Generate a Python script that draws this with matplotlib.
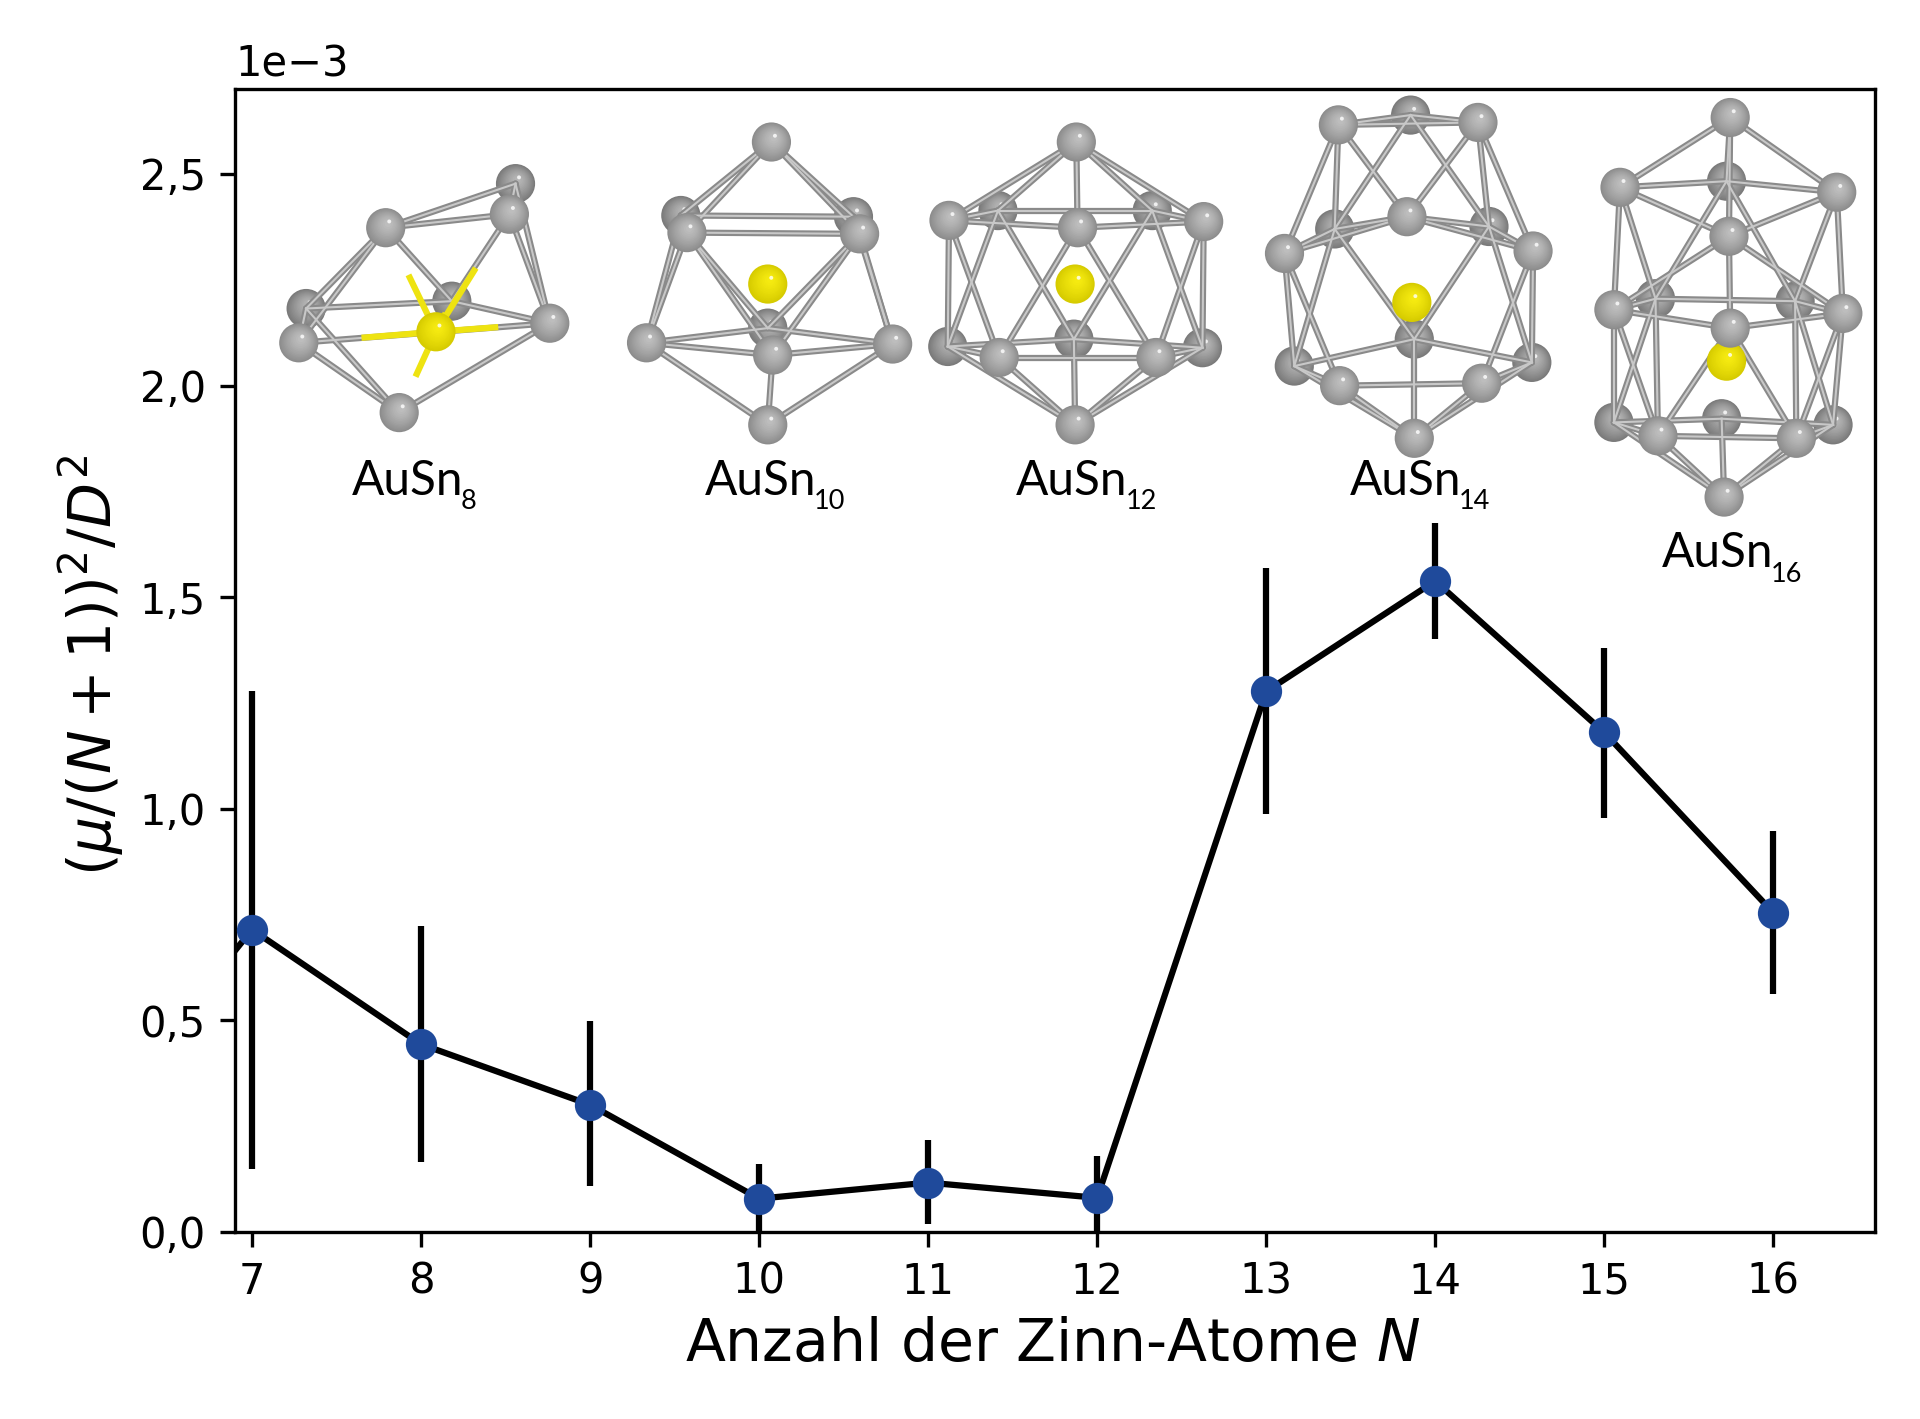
import numpy as np
import matplotlib
matplotlib.use("Agg")
import matplotlib.pyplot as plt
from matplotlib.colors import to_rgb
from matplotlib.patches import Circle
from matplotlib.ticker import FuncFormatter

# Data, in units of 1e-3 (N=6 lies left of the visible range, only its line shows)
n_atoms = [6, 7, 8, 9, 10, 11, 12, 13, 14, 15, 16]
values = [0.22, 0.714, 0.443, 0.30, 0.078, 0.116, 0.08, 1.277, 1.538, 1.18, 0.754]
err_low = [0.22, 0.147, 0.165, 0.107, 0.0, 0.017, 0.0, 0.988, 1.40, 0.977, 0.561]
err_high = [0.22, 1.277, 0.723, 0.497, 0.159, 0.217, 0.179, 1.569, 1.676, 1.38, 0.948]
x_ticks = [7, 8, 9, 10, 11, 12, 13, 14, 15, 16]
y_ticks = [0.0, 0.5, 1.0, 1.5, 2.0, 2.5]

# Cluster sketches, atom positions in overlay coordinates
sn8_atoms = dict(a=(421, 150), b=(416, 175), c=(315, 186), d=(250, 252), e=(369, 246),
                 f=(244, 280), g=(449, 264), h=(326, 337))
sn8_au = (356, 271)
sn8_bonds = "c-a c-b a-b b-g a-g c-d c-f c-e b-e d-e f-g f-h d-h g-h e-g f-d"
sn8_back = "d e a"
sn8_au_bonds = "c b f g h e"

sn10_atoms = dict(t=(630, 116), p=(556, 176), q=(697, 177), l=(561, 190), r=(702, 191),
                  m=(627, 268), u=(528, 280), v=(729, 281), f=(631, 290), z=(627, 347))
sn10_au = (627, 232)
sn10_bonds = ("t-p t-l t-r t-q p-q l-r l-u p-u l-f l-m r-f r-m r-v u-m u-f v-m v-f "
              "u-z v-z f-z q-v")
sn10_back = "p q m"

sn12_atoms = dict(t=(879, 116), p=(815, 172), q=(941, 172), l=(775, 180), r=(983, 181),
                  f=(880, 186), m=(877, 277), u=(774, 283), v=(982, 284), g=(816, 292),
                  h=(944, 292), z=(878, 347))
sn12_au = (878, 232)
sn12_bonds = ("t-p t-q t-l t-r t-f l-p p-q q-r l-f f-r l-u r-v l-g f-g f-h r-h p-m q-m "
              "p-u q-v u-m m-v u-g g-h h-v z-u z-g z-h z-v z-m")
sn12_back = "p q m u v"

sn14_atoms = dict(a=(1093, 102), b=(1152, 94), c=(1207, 100), d=(1090, 187), e=(1149, 177),
                  f=(1216, 185), l=(1049, 207), r=(1252, 205), m=(1155, 277), p=(1057, 299),
                  q=(1251, 296), g=(1094, 315), h=(1210, 313), z=(1155, 358))
sn14_au = (1153, 247)
sn14_bonds = ("a-b b-c a-c a-d a-e a-l b-d b-f c-e c-f c-r d-l d-e e-f f-r l-e e-r d-m f-m "
              "l-p l-g r-q r-h d-p f-q p-m m-q p-g g-h h-q z-g z-h z-p z-q z-m")
sn14_back = "b d f m p q"

sn16_atoms = dict(t=(1413, 96), l=(1323, 153), c=(1410, 148), r=(1500, 157), f=(1412, 193),
                  u=(1318, 253), p=(1352, 244), q=(1466, 246), v=(1505, 256), m=(1413, 268),
                  a=(1318, 345), b=(1406, 342), g=(1354, 356), h=(1467, 358), d=(1497, 347),
                  z=(1408, 406))
sn16_au = (1410, 295)
sn16_bonds = ("t-l t-c t-r t-f l-c c-r l-f r-f l-u l-p r-v r-q c-p c-q f-u f-v f-m u-p p-q "
              "q-v u-m m-v u-a u-g v-d v-h p-a p-g q-d q-h m-g m-h a-b b-d a-g g-h h-d "
              "z-a z-g z-h z-d z-b")
sn16_back = "c p q a b d"

cluster_names = ["AuSn", "AuSn", "AuSn", "AuSn", "AuSn"]
cluster_subs = ["8", "10", "12", "14", "16"]
label_pos = [(287, 404), (576, 404), (830, 404), (1102, 404), (1357, 463)]


def draw_atom(ax, x, y, r, dark, light, z):
    # stacked circles give the sphere shading
    c0, c1 = np.array(to_rgb(dark)), np.array(to_rgb(light))
    for t in np.linspace(0, 1, 14):
        col = c0 + (c1 - c0) * t
        ax.add_patch(Circle((x + 0.12 * r * t, y - 0.2 * r * t), r * (1 - 0.92 * t) ** 0.7,
                            fc=col, ec="none", zorder=z))
    ax.add_patch(Circle((x + 0.18 * r, y - 0.32 * r), 0.1 * r, fc="white", ec="none",
                        alpha=0.8, zorder=z + 0.01))


def draw_cluster(ax, atoms, au, bonds, back, au_bonds="", z=10, r=16):
    back_list = back.split()
    for name in back_list:
        draw_atom(ax, *atoms[name], r, "#7a7a7a", "#b4b4b4", z)
    for bond in bonds.split():
        p, q = bond.split("-")
        xs = [atoms[p][0], atoms[q][0]]
        ys = [atoms[p][1], atoms[q][1]]
        ax.plot(xs, ys, color="#8a8a8a", lw=1.5, solid_capstyle="round", zorder=z + 1)
        ax.plot(xs, ys, color="#c8c8c8", lw=0.5, zorder=z + 1.1)
    for name in au_bonds.split():
        mx = au[0] + (atoms[name][0] - au[0]) * 0.52
        my = au[1] + (atoms[name][1] - au[1]) * 0.52
        ax.plot([au[0], mx], [au[1], my], color="#eee311", lw=1.5, zorder=z + 2)
    draw_atom(ax, au[0], au[1], r, "#d6cb00", "#f5ea10", z + 3)
    for name, (x, y) in atoms.items():
        if name not in back_list:
            draw_atom(ax, x, y, r, "#8c8c8c", "#bdbdbd", z + 4)


plt.rcParams["mathtext.fontset"] = "dejavusans"

fig = plt.figure(figsize=(6.4, 1419 / 300), dpi=300)
ax = fig.add_axes([192 / 1568, 1 - 1006 / 1159, (1531 - 192) / 1568, (1006 - 73) / 1159])

ax.errorbar(n_atoms, values,
            yerr=[np.array(values) - np.array(err_low), np.array(err_high) - np.array(values)],
            color="black", lw=1.5, elinewidth=1.5, marker="o", ms=6.5,
            mfc="#1f4a9b", mec="#1f4a9b", zorder=3)

ax.set_xlim(6.9, 16.6)
ax.set_ylim(0, 2.7)
ax.set_xticks(x_ticks)
ax.set_yticks(y_ticks)
ax.yaxis.set_major_formatter(FuncFormatter(lambda v, pos: f"{v:.1f}".replace(".", ",")))
ax.text(0, 1.003, "1e\u22123", transform=ax.transAxes, fontsize=10, va="bottom", ha="left")
ax.set_xlabel("Anzahl der Zinn-Atome $N$", fontsize=14, labelpad=3.2, x=0.4985)
ax.set_ylabel(r"$(\mu/(N+1))^2/D^2$", fontsize=14, labelpad=3.3, y=0.4955)

# overlay for the cluster sketches
ov = fig.add_axes([0, 0, 1, 1], facecolor="none")
ov.set_xlim(0, 1568)
ov.set_ylim(1159, 0)
ov.axis("off")

draw_cluster(ov, sn8_atoms, sn8_au, sn8_bonds, sn8_back, sn8_au_bonds)
draw_cluster(ov, sn10_atoms, sn10_au, sn10_bonds, sn10_back)
draw_cluster(ov, sn12_atoms, sn12_au, sn12_bonds, sn12_back)
draw_cluster(ov, sn14_atoms, sn14_au, sn14_bonds, sn14_back)
draw_cluster(ov, sn16_atoms, sn16_au, sn16_bonds, sn16_back)

for name, sub, (x, y) in zip(cluster_names, cluster_subs, label_pos):
    ov.text(x, y, name, fontsize=11.5, family="Lato", va="baseline", ha="left")
    ov.text(x + 89, y + 12, sub, fontsize=6.5, family="Lato", va="baseline", ha="left")

fig.savefig("out.png", dpi=300)
